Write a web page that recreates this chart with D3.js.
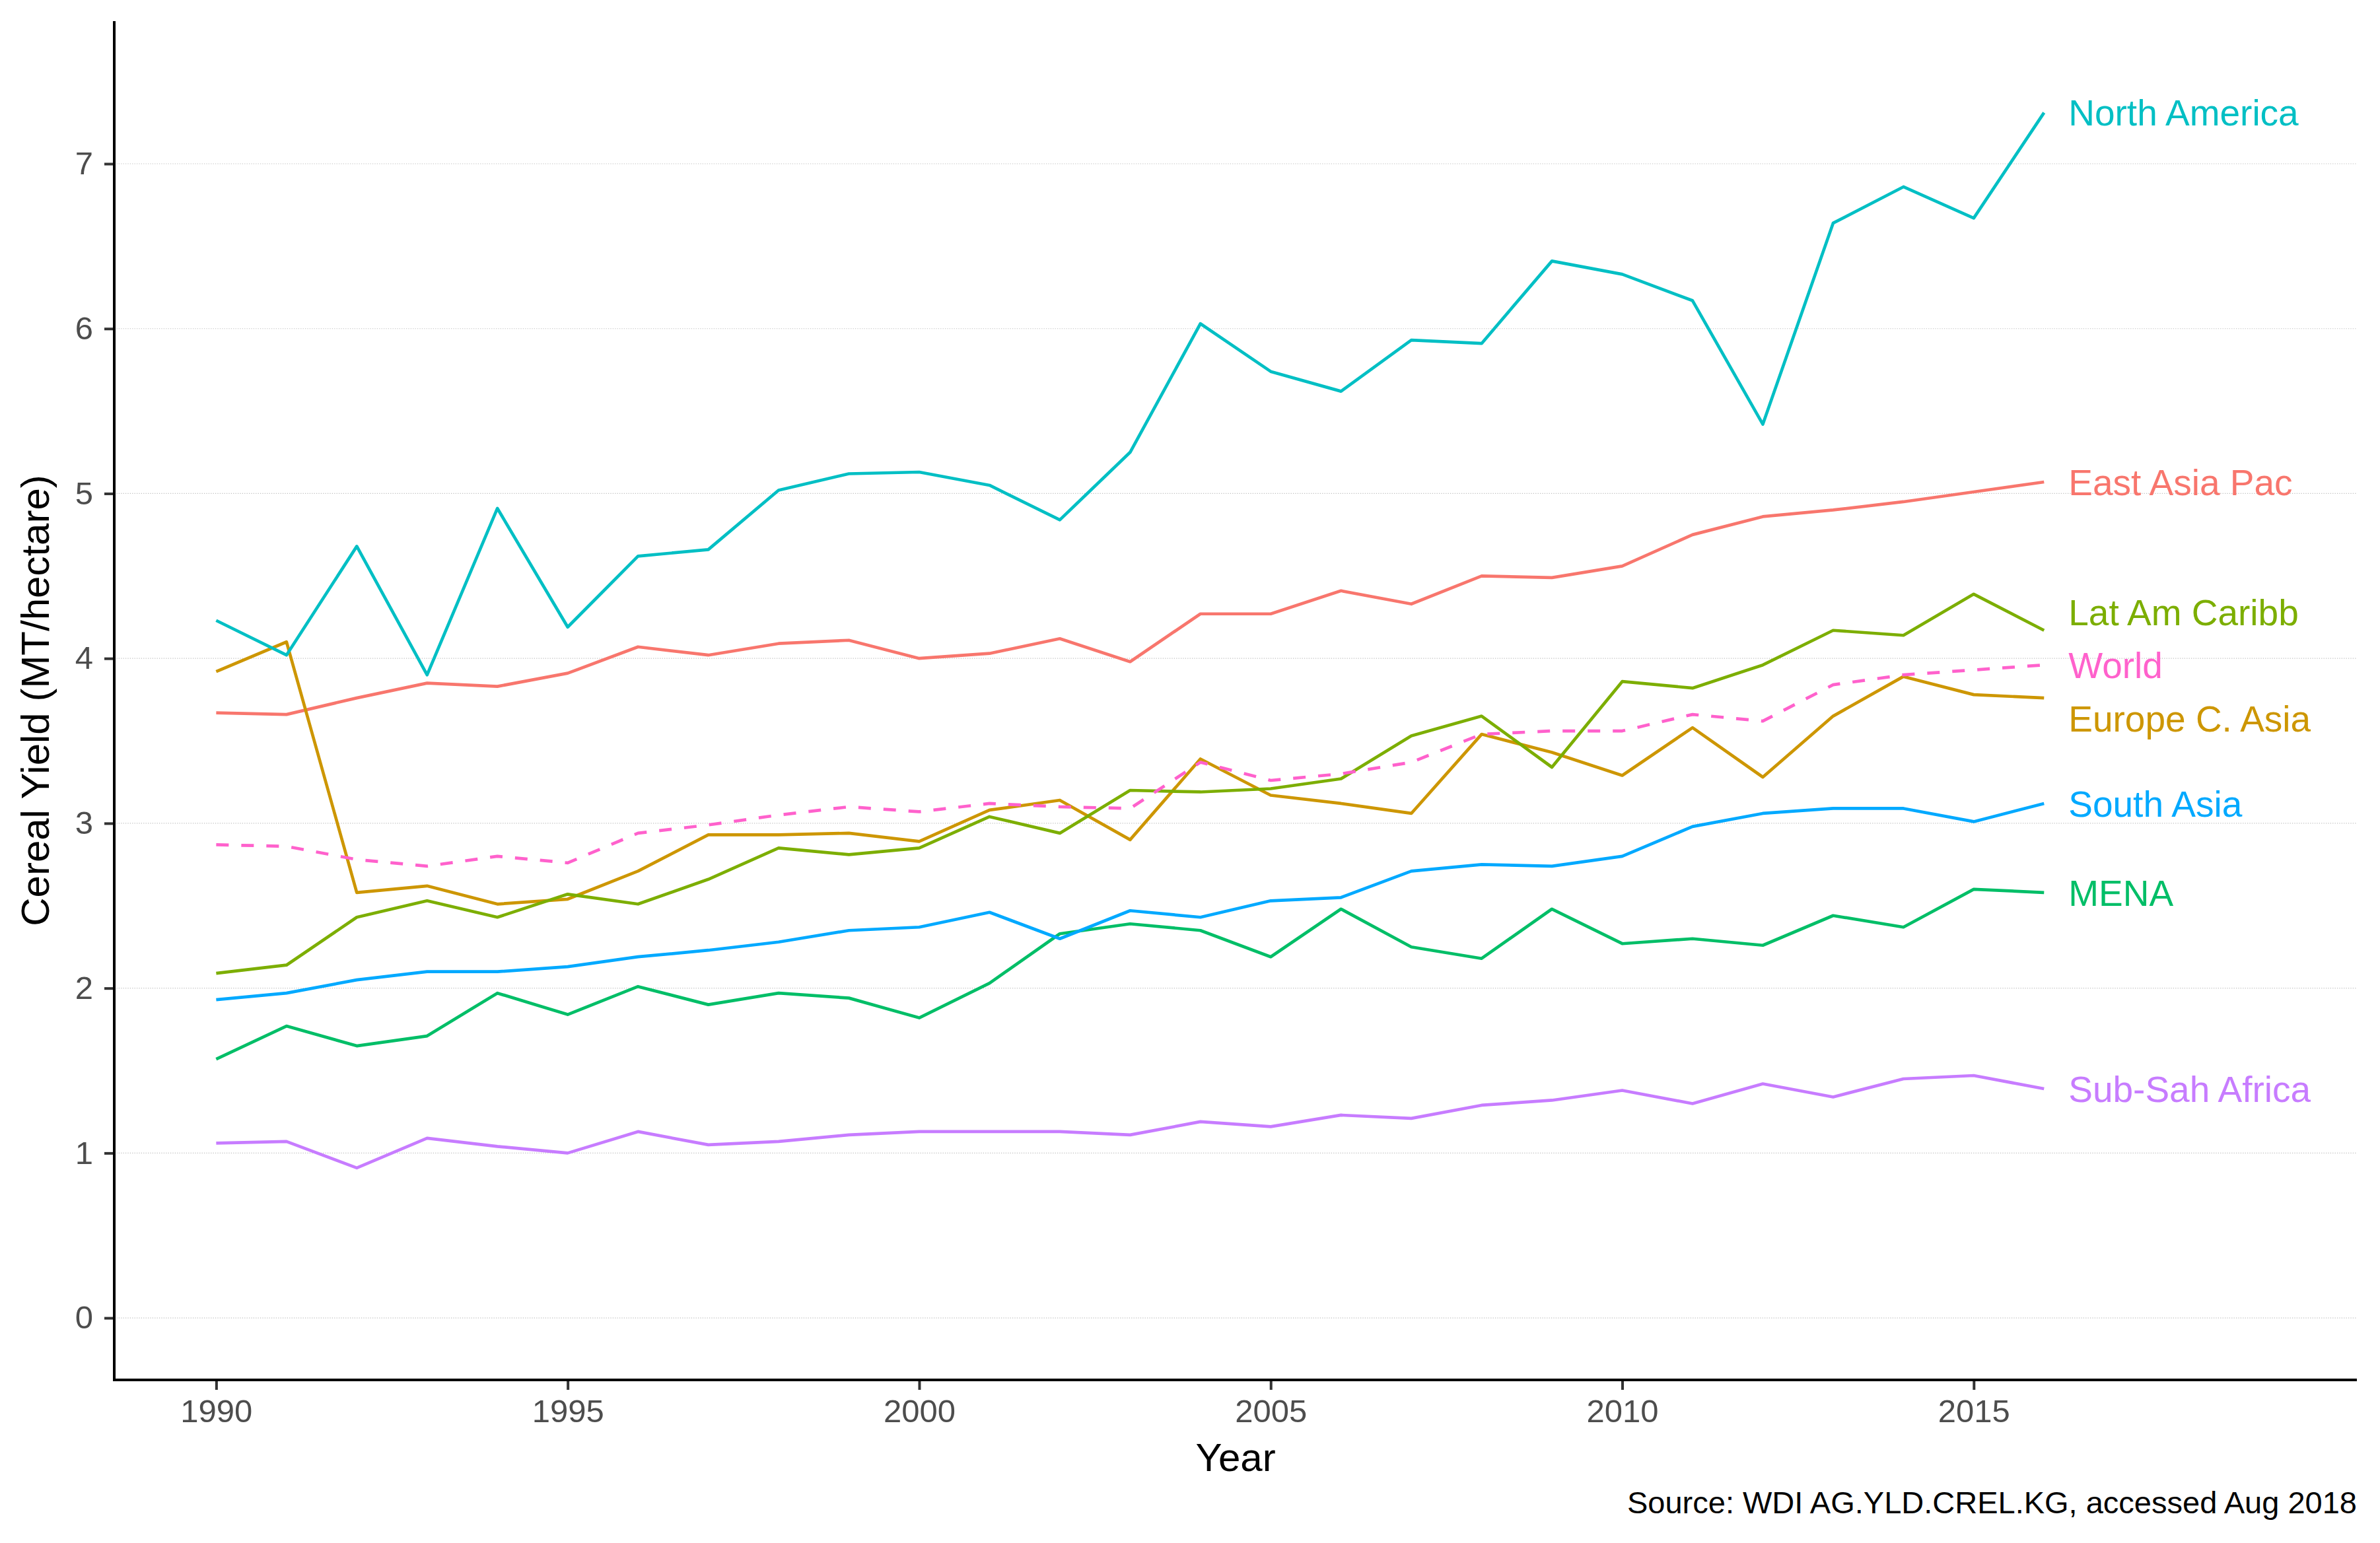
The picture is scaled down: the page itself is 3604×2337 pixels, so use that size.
<!DOCTYPE html>
<html>
<head>
<meta charset="utf-8">
<script src="https://cdn.jsdelivr.net/npm/d3@7"></script>
<style>
  html, body { margin: 0; padding: 0; background: #ffffff; }
  svg { display: block; }
</style>
</head>
<body>
<div id="chart"></div>
<script>
// ---------------- data ----------------
const years = [1990, 1991, 1992, 1993, 1994, 1995, 1996, 1997, 1998, 1999,
               2000, 2001, 2002, 2003, 2004, 2005, 2006, 2007, 2008, 2009,
               2010, 2011, 2012, 2013, 2014, 2015, 2016];

const regions = ["East Asia Pac", "Europe C. Asia", "Lat Am Caribb", "MENA",
                 "North America", "South Asia", "Sub-Sah Africa", "World"];

const eastAsiaPac = [3.67, 3.66, 3.76, 3.85, 3.83, 3.91, 4.07, 4.02, 4.09, 4.11,
                     4.00, 4.03, 4.12, 3.98, 4.27, 4.27, 4.41, 4.33, 4.50, 4.49,
                     4.56, 4.75, 4.86, 4.90, 4.95, 5.01, 5.07];
const europeCAsia = [3.92, 4.10, 2.58, 2.62, 2.51, 2.54, 2.71, 2.93, 2.93, 2.94,
                     2.89, 3.08, 3.14, 2.90, 3.39, 3.17, 3.12, 3.06, 3.54, 3.43,
                     3.29, 3.58, 3.28, 3.65, 3.89, 3.78, 3.76];
const latAmCaribb = [2.09, 2.14, 2.43, 2.53, 2.43, 2.57, 2.51, 2.66, 2.85, 2.81,
                     2.85, 3.04, 2.94, 3.20, 3.19, 3.21, 3.27, 3.53, 3.65, 3.34,
                     3.86, 3.82, 3.96, 4.17, 4.14, 4.39, 4.17];
const mena        = [1.57, 1.77, 1.65, 1.71, 1.97, 1.84, 2.01, 1.90, 1.97, 1.94,
                     1.82, 2.03, 2.33, 2.39, 2.35, 2.19, 2.48, 2.25, 2.18, 2.48,
                     2.27, 2.30, 2.26, 2.44, 2.37, 2.60, 2.58];
const northAmerica= [4.23, 4.02, 4.68, 3.90, 4.91, 4.19, 4.62, 4.66, 5.02, 5.12,
                     5.13, 5.05, 4.84, 5.25, 6.03, 5.74, 5.62, 5.93, 5.91, 6.41,
                     6.33, 6.17, 5.42, 6.64, 6.86, 6.67, 7.31];
const southAsia   = [1.93, 1.97, 2.05, 2.10, 2.10, 2.13, 2.19, 2.23, 2.28, 2.35,
                     2.37, 2.46, 2.30, 2.47, 2.43, 2.53, 2.55, 2.71, 2.75, 2.74,
                     2.80, 2.98, 3.06, 3.09, 3.09, 3.01, 3.12];
const subSahAfrica= [1.06, 1.07, 0.91, 1.09, 1.04, 1.00, 1.13, 1.05, 1.07, 1.11,
                     1.13, 1.13, 1.13, 1.11, 1.19, 1.16, 1.23, 1.21, 1.29, 1.32,
                     1.38, 1.30, 1.42, 1.34, 1.45, 1.47, 1.39];
const world       = [2.87, 2.86, 2.78, 2.74, 2.80, 2.76, 2.94, 2.99, 3.05, 3.10,
                     3.07, 3.12, 3.10, 3.09, 3.37, 3.26, 3.30, 3.37, 3.54, 3.56,
                     3.56, 3.66, 3.62, 3.84, 3.90, 3.93, 3.96];

const seriesValues = [eastAsiaPac, europeCAsia, latAmCaribb, mena,
                      northAmerica, southAsia, subSahAfrica, world];

const xTicks = [1990, 1995, 2000, 2005, 2010, 2015];
const yTicks = [0, 1, 2, 3, 4, 5, 6, 7];

const xTitle = "Year";
const yTitle = "Cereal Yield (MT/hectare)";
const caption = "Source: WDI AG.YLD.CREL.KG, accessed Aug 2018";

// ---------------- style ----------------
const colors = ["#F8766D", "#CD9600", "#7CAE00", "#00BE67",
                "#00BFC4", "#00A9FF", "#C77CFF", "#FF61CC"];
const dashes = [null, null, null, null, null, null, null, "19,19"];
// small vertical label nudges (pixels) to avoid overlaps, like a repel
const labelNudge = [0, 31, -28, 0, 0, 0, 0, 0];

const W = 3604, H = 2337;
const panel = { left: 173, right: 3569, top: 32, bottom: 2090 };
const font = "'Liberation Sans', Arial, Helvetica, sans-serif";

// ---------------- chart ----------------
const svg = d3.select("#chart").append("svg")
  .attr("width", W).attr("height", H)
  .attr("viewBox", `0 0 ${W} ${H}`)
  .style("background", "#ffffff");

svg.append("rect").attr("width", W).attr("height", H).attr("fill", "#ffffff");

const x = d3.scaleLinear().domain([1988.55, 2020.45]).range([panel.left, panel.right]);
const y = d3.scaleLinear().domain([-0.376, 7.865]).range([panel.bottom, panel.top]);

// gridlines
svg.append("g").selectAll("line").data(yTicks).join("line")
  .attr("x1", panel.left).attr("x2", panel.right)
  .attr("y1", d => y(d)).attr("y2", d => y(d))
  .attr("stroke", "#bdbdbd").attr("stroke-width", 1.2)
  .attr("stroke-dasharray", "1.2,2.2");

// lines
const line = d3.line().x((d, i) => x(years[i])).y(d => y(d));
const gLines = svg.append("g");
seriesValues.forEach((vals, k) => {
  gLines.append("path")
    .attr("d", line(vals))
    .attr("fill", "none")
    .attr("stroke", colors[k])
    .attr("stroke-width", 4.7)
    .attr("stroke-linejoin", "round")
    .attr("stroke-dasharray", dashes[k]);
});

// end labels
const lastYear = years[years.length - 1];
svg.append("g").selectAll("text").data(regions).join("text")
  .attr("x", x(lastYear) + 37)
  .attr("y", (d, k) => y(seriesValues[k][seriesValues[k].length - 1]) + labelNudge[k])
  .attr("dy", "0.36em")
  .attr("fill", (d, k) => colors[k])
  .attr("font-family", font)
  .attr("font-size", 55)
  .text(d => d);

// axes
const xAxis = d3.axisBottom(x).tickValues(xTicks).tickFormat(d3.format("d"))
  .tickSize(15).tickPadding(14);
const yAxis = d3.axisLeft(y).tickValues(yTicks).tickFormat(d3.format("d"))
  .tickSize(15).tickPadding(17);

const gx = svg.append("g").attr("transform", `translate(0,${panel.bottom})`).call(xAxis);
const gy = svg.append("g").attr("transform", `translate(${panel.left},0)`).call(yAxis);
[gx, gy].forEach(g => {
  g.select(".domain").remove();
  g.selectAll(".tick line").attr("stroke", "#333333").attr("stroke-width", 4);
  g.selectAll(".tick text").attr("fill", "#4d4d4d")
    .attr("font-family", font).attr("font-size", 49);
});

// axis lines
svg.append("path")
  .attr("d", `M${panel.left},${panel.top}V${panel.bottom}H${panel.right}`)
  .attr("fill", "none").attr("stroke", "#000000").attr("stroke-width", 4)
  .attr("stroke-linecap", "butt").attr("stroke-linejoin", "miter");

// titles
svg.append("text")
  .attr("x", (panel.left + panel.right) / 2).attr("y", 2228)
  .attr("text-anchor", "middle").attr("fill", "#000000")
  .attr("font-family", font).attr("font-size", 60)
  .text(xTitle);

svg.append("text")
  .attr("transform", `translate(74,${(panel.top + panel.bottom) / 2}) rotate(-90)`)
  .attr("text-anchor", "middle").attr("fill", "#000000")
  .attr("font-family", font).attr("font-size", 60)
  .text(yTitle);

svg.append("text")
  .attr("x", panel.right).attr("y", 2292)
  .attr("text-anchor", "end").attr("fill", "#000000")
  .attr("font-family", font).attr("font-size", 47)
  .text(caption);
</script>
</body>
</html>
